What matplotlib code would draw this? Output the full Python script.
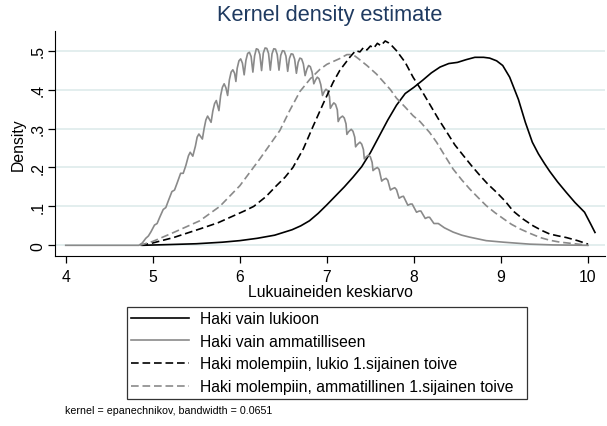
import matplotlib
matplotlib.use("Agg")
import matplotlib.pyplot as plt

plt.rcParams["font.family"] = ["Liberation Sans", "DejaVu Sans"]

# Haki vain lukioon (musta, yhtenäinen)
LUKIO_X = [4.88, 5.2, 5.5, 5.8, 6.0, 6.2, 6.4, 6.6, 6.7, 6.8, 6.9, 7.0, 7.1, 7.2, 7.3, 7.4,
           7.5, 7.6, 7.7, 7.8, 7.9, 8.0, 8.1, 8.2, 8.3, 8.4, 8.5, 8.6, 8.7, 8.8, 8.87,
           8.95, 9.02, 9.1, 9.2, 9.28, 9.36, 9.43, 9.5, 9.56, 9.65, 9.75, 9.85, 9.96,
           10.03, 10.08]
LUKIO_Y = [0.0, 0.002, 0.004, 0.008, 0.012, 0.018, 0.026, 0.040, 0.050, 0.063, 0.082, 0.104,
           0.127, 0.150, 0.175, 0.202, 0.238, 0.280, 0.322, 0.360, 0.390, 0.406, 0.424, 0.443,
           0.458, 0.467, 0.470, 0.477, 0.483, 0.483, 0.481, 0.474, 0.462, 0.432, 0.375,
           0.316, 0.265, 0.235, 0.210, 0.190, 0.163, 0.136, 0.110, 0.085, 0.055, 0.033]

# Haki vain ammatilliseen (harmaa, yhtenäinen, aaltoileva)
AMM_X = [4.00, 4.84, 4.88, 4.92, 4.95, 4.98, 5.02, 5.05, 5.08, 5.12, 5.15, 5.18, 5.22, 5.25,
         5.28, 5.32, 5.35, 5.38, 5.41, 5.43, 5.46, 5.49, 5.51, 5.53, 5.57, 5.59, 5.61, 5.63,
         5.67, 5.69, 5.71, 5.73, 5.76, 5.78, 5.80, 5.82, 5.84, 5.86, 5.88, 5.90, 5.92, 5.94,
         5.955, 5.97, 5.99, 6.01, 6.03, 6.05, 6.07, 6.09, 6.11, 6.13, 6.15, 6.17, 6.19, 6.21,
         6.23, 6.25, 6.27, 6.29, 6.31, 6.33, 6.35, 6.37, 6.39, 6.41, 6.43, 6.45, 6.47, 6.49,
         6.51, 6.53, 6.55, 6.57, 6.59, 6.61, 6.63, 6.65, 6.67, 6.69, 6.71, 6.73, 6.75, 6.77,
         6.79, 6.81, 6.83, 6.85, 6.87, 6.89, 6.91, 6.93, 6.95, 6.97, 6.99, 7.01, 7.03, 7.04,
         7.06, 7.08, 7.10, 7.12, 7.13, 7.15, 7.18, 7.20, 7.22, 7.23, 7.25, 7.28, 7.30, 7.32,
         7.33, 7.35, 7.38, 7.40, 7.42, 7.43, 7.45, 7.48, 7.50, 7.52, 7.53, 7.55, 7.58, 7.60,
         7.63, 7.65, 7.68, 7.70, 7.73, 7.75, 7.78, 7.80, 7.83, 7.86, 7.88, 7.93, 7.96, 7.98,
         8.03, 8.06, 8.08, 8.13, 8.16, 8.18, 8.23, 8.28, 8.35, 8.45, 8.55, 8.64, 8.83, 9.03,
         9.33, 9.6, 10.0]
AMM_Y = [0.000, 0.000, 0.006, 0.018, 0.024, 0.035, 0.052, 0.056, 0.072, 0.092, 0.097, 0.115,
         0.138, 0.142, 0.160, 0.185, 0.185, 0.205, 0.230, 0.239, 0.229, 0.255, 0.278, 0.286,
         0.273, 0.300, 0.322, 0.332, 0.316, 0.345, 0.364, 0.372, 0.346, 0.385, 0.406, 0.415,
         0.405, 0.385, 0.425, 0.445, 0.451, 0.442, 0.421, 0.455, 0.474, 0.479, 0.468, 0.438,
         0.475, 0.493, 0.496, 0.485, 0.445, 0.487, 0.505, 0.503, 0.490, 0.449, 0.494, 0.507,
         0.506, 0.493, 0.450, 0.492, 0.505, 0.504, 0.490, 0.450, 0.488, 0.500, 0.499, 0.486,
         0.447, 0.480, 0.492, 0.491, 0.478, 0.442, 0.470, 0.481, 0.479, 0.466, 0.436, 0.452,
         0.462, 0.459, 0.445, 0.415, 0.425, 0.432, 0.428, 0.413, 0.385, 0.395, 0.401, 0.397,
         0.382, 0.352, 0.360, 0.366, 0.362, 0.348, 0.318, 0.327, 0.332, 0.327, 0.312, 0.285,
         0.292, 0.298, 0.293, 0.278, 0.253, 0.259, 0.265, 0.260, 0.246, 0.222, 0.227, 0.232,
         0.227, 0.213, 0.192, 0.196, 0.200, 0.195, 0.165, 0.169, 0.172, 0.167, 0.142, 0.145,
         0.148, 0.143, 0.121, 0.125, 0.126, 0.103, 0.106, 0.106, 0.085, 0.088, 0.088, 0.069,
         0.072, 0.072, 0.056, 0.056, 0.045, 0.034, 0.026, 0.021, 0.012, 0.008, 0.003, 0.001,
         0.0]

# Haki molempiin, lukio 1. toive (musta, katkoviiva)
MOL_LUK_X = [4.86, 5.0, 5.24, 5.54, 5.75, 5.93, 6.05, 6.16, 6.3, 6.42, 6.52, 6.61, 6.73,
             6.84, 6.96, 7.07, 7.15, 7.27, 7.33, 7.38, 7.42, 7.46, 7.50, 7.54, 7.58, 7.62,
             7.67, 7.71, 7.75, 7.80, 7.84, 7.90, 7.99, 8.09, 8.18, 8.28, 8.38, 8.47, 8.57,
             8.66, 8.76, 8.85, 8.95, 9.05, 9.14, 9.25, 9.37, 9.47, 9.56, 9.66, 9.75, 9.88,
             10.0]
MOL_LUK_Y = [0.0, 0.006, 0.020, 0.042, 0.058, 0.076, 0.088, 0.100, 0.125, 0.153, 0.175,
             0.200, 0.248, 0.305, 0.365, 0.418, 0.450, 0.485, 0.500, 0.497, 0.508, 0.502,
             0.512, 0.507, 0.519, 0.513, 0.525, 0.520, 0.512, 0.500, 0.488, 0.470, 0.432,
             0.397, 0.363, 0.325, 0.290, 0.258, 0.230, 0.205, 0.179, 0.157, 0.136, 0.113,
             0.088, 0.068, 0.050, 0.038, 0.029, 0.024, 0.020, 0.012, 0.003]

# Haki molempiin, ammatillinen 1. toive (harmaa, katkoviiva)
MOL_AMM_X = [4.85, 5.0, 5.24, 5.54, 5.77, 6.0, 6.23, 6.46, 6.57, 6.69, 6.81, 6.92, 7.0,
             7.15, 7.23, 7.30, 7.36, 7.46, 7.57, 7.65, 7.73, 7.80, 7.90, 7.99, 8.07, 8.18,
             8.26, 8.35, 8.45, 8.55, 8.64, 8.74, 8.83, 8.93, 9.03, 9.12, 9.22, 9.33, 9.45,
             9.56, 9.68, 9.85, 10.0]
MOL_AMM_Y = [0.0, 0.010, 0.033, 0.063, 0.100, 0.153, 0.222, 0.295, 0.345, 0.395, 0.428,
             0.452, 0.465, 0.480, 0.490, 0.490, 0.480, 0.462, 0.440, 0.420, 0.400, 0.378,
             0.355, 0.333, 0.318, 0.290, 0.265, 0.232, 0.196, 0.168, 0.145, 0.122, 0.102,
             0.084, 0.068, 0.054, 0.042, 0.031, 0.020, 0.013, 0.008, 0.004, 0.0]

LABELS = ["Haki vain lukioon", "Haki vain ammatilliseen",
          "Haki molempiin, lukio 1.sijainen toive",
          "Haki molempiin, ammatillinen 1.sijainen toive"]

fig = plt.figure(figsize=(6.07, 4.27), dpi=100)
ax = fig.add_axes([55/607, 1-256.7/427, 550/607, 225/427])

harmaa = "#8a8a8a"
ax.plot(LUKIO_X, LUKIO_Y, color="black", lw=1.2, label=LABELS[0])
ax.plot(AMM_X, AMM_Y, color=harmaa, lw=1.2, label=LABELS[1])
ax.plot(MOL_LUK_X, MOL_LUK_Y, color="black", lw=1.2, dashes=(4.6, 2.3), label=LABELS[2])
ax.plot(MOL_AMM_X, MOL_AMM_Y, color=harmaa, lw=1.2, dashes=(4.6, 2.3), label=LABELS[3])

ax.set_xlim(3.877, 10.195)
ax.set_ylim(-0.0267, 0.5514)
ax.set_xticks([4, 5, 6, 7, 8, 9, 10])
ax.set_yticks([0, 0.1, 0.2, 0.3, 0.4, 0.5])
ax.set_yticklabels(["0", ".1", ".2", ".3", ".4", ".5"], rotation=90, va="center")
ax.tick_params(labelsize=11.3, length=5, width=0.9, pad=2)
ax.tick_params(axis="x", pad=4.5)
ax.grid(axis="y", color="#e3eeee", lw=1.4)
ax.set_axisbelow(True)
for s in ["top", "right"]:
    ax.spines[s].set_visible(False)

ax.set_xlabel("Lukuaineiden keskiarvo", fontsize=11.3, labelpad=0)
ax.set_ylabel("Density", fontsize=11.3, labelpad=3)
fig.text(330/607, 1-15/427, "Kernel density estimate", fontsize=15.7,
         color="#1f3a60", ha="center", va="center")

leg = ax.legend(loc="upper left", bbox_to_anchor=(126.7/607, 1-397.7/427, 400/607, 90/427),
                bbox_transform=fig.transFigure, mode="expand", fontsize=11.3,
                frameon=True, fancybox=False, edgecolor="black", borderpad=0.3,
                handlelength=3.7, handletextpad=0.7, labelspacing=0.48, borderaxespad=0)
leg.get_frame().set_linewidth(0.9)

fig.text(65/607, 1-411/427, "kernel = epanechnikov, bandwidth = 0.0651", fontsize=7.7,
         ha="left", va="center")

fig.savefig("out.png", dpi=100)
